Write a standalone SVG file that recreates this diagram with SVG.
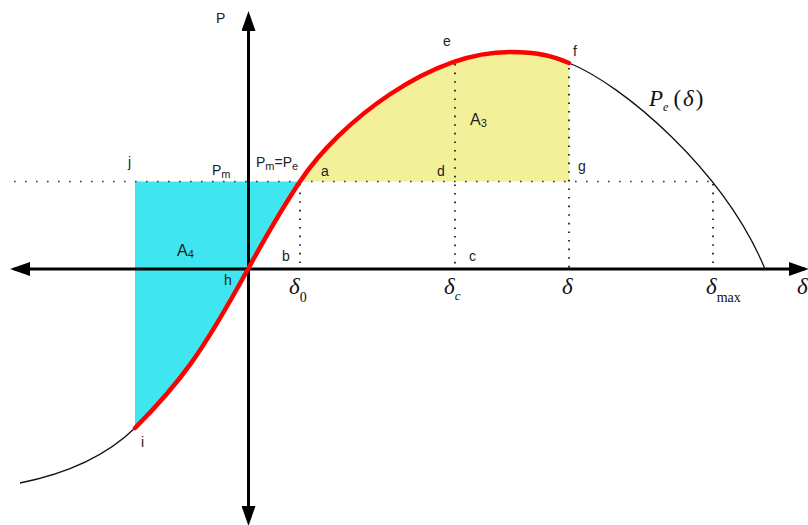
<svg xmlns="http://www.w3.org/2000/svg" width="808" height="525" viewBox="0 0 808 525">
<defs>
<marker id="arr" viewBox="0 0 20 14" refX="16" refY="7" markerWidth="20" markerHeight="14" markerUnits="userSpaceOnUse" orient="auto-start-reverse">
<path d="M0,0 L20,7 L0,14 Z" fill="#000"/>
</marker>
<style>
.lbl{font-family:"Liberation Sans",Arial,sans-serif;font-size:14px;fill:#222}
.area{font-family:"Liberation Sans",Arial,sans-serif;font-size:16px;fill:#222}
.gk{font-family:"Liberation Serif","Times New Roman",serif;font-style:italic;font-size:23px;fill:#111}
.up{font-style:normal}
.dotv{stroke:#222;stroke-width:1.8;stroke-dasharray:1.6 7;fill:none}
.doth{stroke:#333;stroke-width:1.6;stroke-dasharray:1.6 9.4;fill:none}
.axis{stroke:#000;stroke-width:3;fill:none}
.curve{stroke:#111;stroke-width:1.3;fill:none}
.red{stroke:#ff0000;stroke-width:4.5;fill:none;stroke-linecap:round}
</style>
</defs>
<rect width="808" height="525" fill="#fff"/>

<g id="area-A4">
<path d="M135,181.5 L300,181.5 C283,207 265,238 248,269 C202,353 180,383 135,428 Z" fill="#3fe6ef"/>
</g>
<g id="area-A3">
<path d="M300,181.5 C340,121.5 430,52 510,52 C540,52 555,57 569,63 L569,181.5 Z" fill="#f3f09a"/>
</g>

<g id="guides">
<line class="doth" x1="14" y1="181.5" x2="714" y2="181.5"/>
<line class="dotv" x1="300" y1="184" x2="300" y2="268"/>
<line class="dotv" x1="455" y1="64" x2="455" y2="268"/>
<line class="dotv" x1="569" y1="68" x2="569" y2="268"/>
<line class="dotv" x1="713" y1="184" x2="713" y2="268"/>
</g>

<g id="axes">
<line class="axis" x1="14" y1="269" x2="805" y2="269" marker-start="url(#arr)" marker-end="url(#arr)"/>
<line class="axis" x1="248.5" y1="522" x2="248.5" y2="15" marker-start="url(#arr)" marker-end="url(#arr)"/>
</g>

<g id="connectors">
<path class="curve" d="M20,483 C55,476 100,462 135,428"/>
<path class="curve" d="M569,63 C622,84 724,170 765,269"/>
<path class="red" d="M135,428 C180,383 202,353 248,269 C265,238 283,207 300,181.5 C340,121.5 430,52 510,52 C540,52 555,57 569,63"/>
</g>

<g id="labels">
<text class="lbl" x="216" y="23">P</text>
<text class="lbl" x="128" y="167">j</text>
<text class="lbl" x="212" y="175">P<tspan font-size="11" dy="3">m</tspan></text>
<text class="lbl" x="256" y="167">P<tspan font-size="11" dy="3">m</tspan><tspan dy="-3">=P</tspan><tspan font-size="11" dy="3">e</tspan></text>
<text class="lbl" x="321" y="176">a</text>
<text class="lbl" x="437" y="176">d</text>
<text class="lbl" x="578" y="171">g</text>
<text class="lbl" x="443" y="46">e</text>
<text class="lbl" x="573" y="56">f</text>
<text class="lbl" x="282" y="261">b</text>
<text class="lbl" x="469" y="261">c</text>
<text class="lbl" x="224" y="285">h</text>
<text class="lbl" x="141" y="447">i</text>
<text class="area" x="470" y="125">A<tspan font-size="11" dy="2">3</tspan></text>
<text class="area" x="177" y="256">A<tspan font-size="11" dy="2">4</tspan></text>
<text class="gk" x="289" y="294">δ<tspan class="up" font-size="14" dy="8">0</tspan></text>
<text class="gk" x="444" y="294">δ<tspan font-size="13" dy="6">c</tspan></text>
<text class="gk" x="562" y="294">δ</text>
<text class="gk" x="706" y="294">δ<tspan class="up" font-size="14" dy="8">max</tspan></text>
<text class="gk" x="797" y="294">δ</text>
<text class="gk" x="649" y="106" font-size="21">P<tspan font-size="12" dy="5">e</tspan><tspan class="up" dy="-5" dx="5">(</tspan><tspan dx="2">δ</tspan><tspan class="up" dx="2">)</tspan></text>
</g>
</svg>
